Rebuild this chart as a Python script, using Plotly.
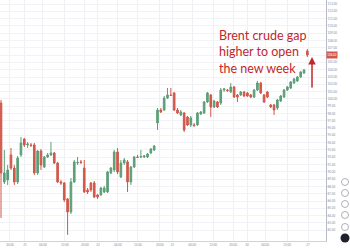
import plotly.graph_objects as go

# ---- data (hourly candles) ----
opens = [99.44, 88.62, 88.89, 92.32, 90.53, 88.62, 92.32, 94.51, 93.69, 93.69,
         93.69, 89.85, 92.86, 90.67, 92.04, 92.32, 92.59, 91.22, 88.62, 88.48,
         86.29, 84.51, 88.62, 91.22, 91.36, 90.53, 87.52, 88.48, 88.48, 86.84,
         86.84, 87.25, 87.25, 89.85, 90.26, 92.73, 89.30, 91.22, 91.36, 88.62,
         90.67, 92.04, 92.04, 92.04, 92.04, 92.59, 93.00, 96.70, 98.48, 98.48,
         100.12, 100.54, 100.81, 98.48, 97.80, 98.07, 97.52, 96.43, 96.43, 96.43,
         97.93, 98.07, 99.58, 100.54, 98.89, 99.58, 99.44, 101.22, 101.22, 100.95,
         101.63, 100.54, 100.54, 100.95, 100.81, 100.54, 100.26, 101.22, 102.18, 100.54,
         100.95, 99.17, 99.17, 98.75, 99.71, 100.26, 101.22, 101.49, 102.18, 102.45,
         103.00, 103.55, 106.56]
highs = [99.85, 93.00, 90.95, 93.27, 90.95, 92.18, 94.78, 94.64, 94.10, 93.96,
         93.96, 93.00, 93.14, 92.18, 92.59, 94.10, 92.73, 91.36, 88.89, 88.62,
         86.42, 89.16, 91.63, 92.04, 91.63, 91.63, 87.79, 88.62, 88.75, 86.97,
         87.93, 88.07, 90.12, 90.67, 93.00, 93.27, 91.63, 91.90, 91.63, 90.81,
         92.18, 92.32, 93.00, 92.32, 92.59, 93.27, 93.69, 98.75, 98.75, 100.40,
         101.49, 101.49, 100.95, 98.75, 98.48, 98.21, 97.66, 97.66, 96.70, 98.21,
         98.34, 99.71, 100.95, 100.67, 99.85, 99.71, 101.49, 101.49, 101.36, 102.18,
         101.77, 100.67, 101.08, 101.08, 100.95, 100.67, 101.36, 102.45, 102.32, 100.67,
         101.08, 99.30, 99.30, 99.99, 100.54, 101.36, 101.77, 102.45, 102.86, 103.14,
         103.82, 104.10, 106.84]
lows = [83.69, 88.34, 88.21, 90.26, 88.21, 88.34, 92.04, 93.41, 93.27, 93.41,
        89.58, 89.58, 90.26, 90.53, 91.90, 92.18, 91.08, 88.48, 88.21, 85.88,
        81.36, 84.23, 88.48, 90.95, 91.08, 87.11, 86.97, 87.25, 86.42, 86.29,
        86.70, 87.11, 87.11, 89.71, 89.99, 89.71, 89.16, 90.95, 87.25, 88.21,
        90.53, 91.90, 91.90, 91.90, 91.90, 92.45, 92.86, 95.74, 98.07, 98.34,
        99.99, 100.40, 98.34, 97.93, 97.66, 95.47, 96.29, 96.15, 96.15, 96.29,
        97.80, 97.93, 99.44, 97.52, 98.75, 98.75, 99.17, 100.95, 100.95, 100.81,
        100.12, 99.58, 100.40, 100.26, 100.26, 100.12, 100.12, 101.08, 100.67, 99.44,
        100.12, 98.75, 97.80, 98.48, 99.58, 100.12, 101.08, 101.36, 102.04, 102.32,
        102.86, 103.41, 105.74]
closes = [89.85, 89.85, 90.26, 90.53, 88.62, 91.90, 93.96, 93.69, 93.82, 93.62,
          89.85, 92.86, 90.95, 92.04, 92.32, 92.59, 91.22, 88.62, 88.48, 86.15,
          84.51, 88.62, 91.36, 91.30, 91.30, 87.25, 87.25, 87.52, 86.56, 86.56,
          87.79, 87.79, 89.99, 90.53, 92.73, 89.99, 91.22, 91.63, 88.62, 90.67,
          92.04, 91.98, 92.11, 92.18, 92.45, 93.14, 93.55, 98.48, 98.21, 100.12,
          100.54, 100.47, 98.48, 98.07, 98.21, 95.74, 96.43, 97.39, 96.36, 98.07,
          98.21, 99.58, 100.81, 98.89, 99.71, 98.89, 101.22, 101.36, 101.15, 101.63,
          100.26, 100.26, 100.95, 100.40, 100.40, 100.26, 101.22, 102.18, 100.81, 99.58,
          100.26, 98.89, 98.48, 99.85, 100.40, 101.22, 101.63, 102.32, 102.73, 103.00,
          103.69, 103.96, 106.02]
candle_index = list(range(len(opens)))

x_tick_pos = [2.7, 7.2, 12.6, 19.2, 25.2, 29.1, 35.1, 41.1, 47.7, 51.4,
              57.4, 63.7, 69.7, 73.9, 79.3, 85.9, 92.2]
x_tick_text = ["20:00", "21", "04:00", "12:00", "20:00", "22", "04:00", "12:00",
               "20:00", "23", "04:00", "12:00", "20:00", "24", "04:00", "12:00", "27"]
y_tick_vals = list(range(82, 114))
y_tick_text = [f"{v:.2f}" for v in y_tick_vals]

note_text = "Brent crude gap<br>higher to open<br>the new week"
arrow_x = 93.4
arrow_tail = 101.36
arrow_tip = 105.74

UP = "#5c9f78"
DOWN = "#d0584a"
NOTE_RED = "#c1272d"

fig = go.Figure(go.Candlestick(
    x=candle_index, open=opens, high=highs, low=lows, close=closes,
    increasing=dict(line=dict(color=UP, width=1), fillcolor=UP),
    decreasing=dict(line=dict(color=DOWN, width=1), fillcolor=DOWN),
    whiskerwidth=0, hoverinfo="skip",
))

fig.update_layout(
    width=350, height=250,
    margin=dict(l=0, r=24, t=0, b=9),
    paper_bgcolor="white", plot_bgcolor="white",
    showlegend=False,
    font=dict(family="Lato"),
    xaxis=dict(range=[-0.3, 97.6], rangeslider=dict(visible=False),
               tickmode="array", tickvals=x_tick_pos, ticktext=x_tick_text,
               tickfont=dict(size=3, color="#8a8e99"),
               showgrid=True, gridcolor="#eef0f4", gridwidth=1,
               showline=True, linecolor="#cfd2d8", linewidth=1,
               ticks="", zeroline=False, fixedrange=True),
    yaxis=dict(side="right", range=[80.53, 113.55],
               tickmode="array", tickvals=y_tick_vals, ticktext=y_tick_text,
               tickfont=dict(size=3, color="#8a8e99"),
               showgrid=True, gridcolor="#f1f3f6", gridwidth=1,
               showline=True, linecolor="#b8bbc2", linewidth=1,
               ticks="", zeroline=False, fixedrange=True),
)

# headline note
fig.add_annotation(xref="paper", yref="paper", x=216.5 / 326, y=1 - 26 / 241,
                   xanchor="left", yanchor="top", align="left", showarrow=False,
                   text=note_text, font=dict(family="Lato", size=12.5, color=NOTE_RED))

# gap arrow
fig.add_annotation(x=arrow_x, y=arrow_tip, ax=arrow_x, ay=arrow_tail,
                   xref="x", yref="y", axref="x", ayref="y", text="",
                   showarrow=True, arrowhead=2, arrowsize=1, arrowwidth=1.5,
                   arrowcolor=NOTE_RED)

# last price tag on the price scale
fig.add_annotation(xref="paper", yref="y", x=1.0, y=closes[-1], xanchor="left",
                   yanchor="middle", showarrow=False, text=f"{closes[-1]:.2f}",
                   bgcolor=DOWN, font=dict(size=3, color="white"),
                   width=10, height=6, borderpad=0)

# toolbar icons on the right edge
for py in [182, 193, 204, 215, 227]:
    cx = 345 / 326
    cy = 1 - py / 241
    fig.add_shape(type="circle", xref="paper", yref="paper",
                  x0=cx - 3.5 / 326, x1=cx + 3.5 / 326, y0=cy - 3.5 / 241, y1=cy + 3.5 / 241,
                  line=dict(color="#9a9da6", width=0.8))
cx, cy = 345 / 326, 1 - 238 / 241
fig.add_shape(type="circle", xref="paper", yref="paper",
              x0=cx - 4.5 / 326, x1=cx + 4.5 / 326, y0=cy - 4.5 / 241, y1=cy + 4.5 / 241,
              line=dict(color="#1e222d", width=0), fillcolor="#1e222d")

fig.write_html("out.html", config={"displayModeBar": False})
